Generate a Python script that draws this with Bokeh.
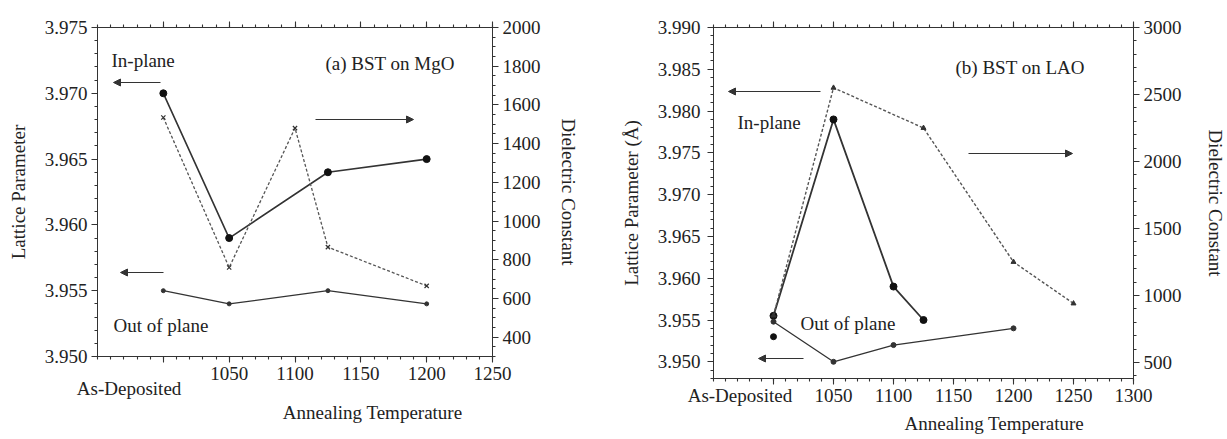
from bokeh.plotting import figure
from bokeh.models import (Range1d, LinearAxis, FixedTicker, Label, Arrow, NormalHead,
                          PrintfTickFormatter)
from bokeh.layouts import row
from bokeh.embed import file_html
from bokeh.resources import INLINE

FONT = "Liberation Serif"
INK = "#333333"
TXT = "#222222"
FS = "19px"
TICK_MAJ = 6
TICK_MIN = 3

# ---------------- data: panel (a) BST on MgO ----------------
A_T_INPLANE = [1000, 1050, 1125, 1200]
A_INPLANE = [3.970, 3.959, 3.964, 3.965]
A_T_OUTPLANE = [1000, 1050, 1125, 1200]
A_OUTPLANE = [3.955, 3.954, 3.955, 3.954]
A_T_DIEL = [1000, 1050, 1100, 1125, 1200]
A_DIEL = [1535, 760, 1480, 865, 665]

A_X_TICKS = [1000, 1050, 1100, 1150, 1200, 1250]
A_X_LABELS = ["As-Deposited", "1050", "1100", "1150", "1200", "1250"]
A_Y_TICKS = [3.950, 3.955, 3.960, 3.965, 3.970, 3.975]
A_Y2_TICKS = [400, 600, 800, 1000, 1200, 1400, 1600, 1800, 2000]

# ---------------- data: panel (b) BST on LAO ----------------
B_T_INPLANE = [1000, 1050, 1100, 1125]
B_INPLANE = [3.9555, 3.979, 3.959, 3.955]
B_T_OUTPLANE = [1000, 1050, 1100, 1200]
B_OUTPLANE = [3.9548, 3.950, 3.952, 3.954]
B_T_EXTRA = [1000]
B_EXTRA = [3.953]
B_T_DIEL = [1000, 1050, 1125, 1200, 1250]
B_DIEL = [850, 2550, 2250, 1250, 940]

B_X_TICKS = [1000, 1050, 1100, 1150, 1200, 1250, 1300]
B_X_LABELS = ["As-Deposited", "1050", "1100", "1150", "1200", "1250", "1300"]
B_Y_TICKS = [3.950, 3.955, 3.960, 3.965, 3.970, 3.975, 3.980, 3.985, 3.990]
B_Y2_TICKS = [500, 1000, 1500, 2000, 2500, 3000]

X_TITLE = "Annealing Temperature"


def frange(a, b, step):
    n = int(round((b - a) / step))
    return [round(a + i * step, 6) for i in range(n + 1)]


def style_axis(ax, label_gap, title=None, title_standoff=0):
    ax.axis_line_color = INK
    ax.major_tick_line_color = INK
    ax.minor_tick_line_color = INK
    ax.major_tick_line_width = 1.1
    ax.minor_tick_line_width = 1.1
    ax.major_tick_in = 0
    ax.major_tick_out = TICK_MAJ
    ax.minor_tick_in = 0
    ax.minor_tick_out = TICK_MIN
    ax.major_label_text_font = FONT
    ax.major_label_text_font_size = FS
    ax.major_label_text_color = TXT
    ax.major_label_standoff = max(label_gap - TICK_MAJ, 0)
    if title is not None:
        ax.axis_label = title
        ax.axis_label_text_font = FONT
        ax.axis_label_text_font_size = FS
        ax.axis_label_text_font_style = "normal"
        ax.axis_label_text_color = TXT
        ax.axis_label_standoff = title_standoff


def make_panel(xr, yr, y2r, frame_w, frame_h, borders, xticks, xlabels, xminor,
               yticks, yminor, y2ticks, y2minor, stand):
    left, right, top, bottom = borders
    p = figure(x_range=Range1d(*xr), y_range=Range1d(*yr),
               frame_width=frame_w, frame_height=frame_h,
               min_border_left=left, min_border_right=right,
               min_border_top=top, min_border_bottom=bottom,
               output_backend="svg", toolbar_location=None,
               background_fill_color=None, border_fill_color=None)
    p.extra_y_ranges = {"diel": Range1d(*y2r)}
    p.grid.visible = False
    p.outline_line_color = INK
    p.outline_line_width = 1

    # bottom axis (numeric tick labels; the As-Deposited label is placed separately)
    bx = p.xaxis[0]
    bx.ticker = FixedTicker(ticks=xticks, minor_ticks=xminor)
    style_axis(bx, 10)
    overrides = {xticks[0]: ""}
    for t, s in zip(xticks[1:], xlabels[1:]):
        overrides[t] = s
    bx.major_label_overrides = overrides
    # top axis: tick marks only
    tx = LinearAxis(ticker=FixedTicker(ticks=xticks, minor_ticks=xminor))
    style_axis(tx, 0)
    tx.major_label_text_font_size = "8px"
    tx.major_label_overrides = {t: "" for t in xticks}
    p.add_layout(tx, "above")

    # left axis
    ly = p.yaxis[0]
    ly.ticker = FixedTicker(ticks=yticks, minor_ticks=yminor)
    ly.formatter = PrintfTickFormatter(format="%.3f")
    style_axis(ly, stand[0], stand[1], stand[2])

    # right axis
    ry = LinearAxis(y_range_name="diel",
                    ticker=FixedTicker(ticks=y2ticks, minor_ticks=y2minor),
                    formatter=PrintfTickFormatter(format="%d"))
    style_axis(ry, 10, "Dielectric Constant", stand[3])
    p.add_layout(ry, "right")
    return p


def add_text_row(p, text, px_center, standoff, frame_w, xr):
    """A label-only axis row below the plot, used to place a text at a given pixel offset."""
    pos = int(round(xr[0] + px_center / frame_w * (xr[1] - xr[0])))
    ax = LinearAxis(ticker=FixedTicker(ticks=[pos], minor_ticks=[]))
    ax.major_label_overrides = {pos: text}
    ax.axis_line_color = None
    ax.major_tick_line_color = None
    ax.minor_tick_line_color = None
    ax.major_tick_in = 0
    ax.major_tick_out = 0
    ax.minor_tick_in = 0
    ax.minor_tick_out = 0
    ax.major_label_text_font = FONT
    ax.major_label_text_font_size = FS
    ax.major_label_text_color = TXT
    ax.major_label_standoff = standoff
    p.add_layout(ax, "below")


def add_label(p, text, x, y, align="left"):
    p.add_layout(Label(x=x, y=y, x_units="screen", y_units="screen", text=text,
                       text_font=FONT, text_font_size=FS, text_color=TXT,
                       text_align=align, text_baseline="middle"))


def add_arrow(p, x0, y0, x1, y1):
    p.add_layout(Arrow(end=NormalHead(size=7, fill_color=INK, line_color=INK, line_width=1),
                       x_start=x0, y_start=y0, x_end=x1, y_end=y1,
                       start_units="screen", end_units="screen",
                       line_color=INK, line_width=1.2))


# ---------------- panel (a) ----------------
A_XR = (950, 1250)
pa = make_panel(A_XR, (3.950, 3.975), (300, 2000), 395, 329, (97, 108, 27, 83),
                A_X_TICKS, A_X_LABELS, frange(950, 1250, 10),
                A_Y_TICKS, frange(3.950, 3.975, 0.001),
                A_Y2_TICKS, frange(300, 2000, 50),
                (10, "Lattice Parameter", 13, 14))

pa.line(A_T_INPLANE, A_INPLANE, line_color=INK, line_width=1.6)
pa.scatter(A_T_INPLANE, A_INPLANE, marker="circle", size=7, fill_color="#111111", line_color="#111111")
pa.line(A_T_OUTPLANE, A_OUTPLANE, line_color=INK, line_width=1.2)
pa.scatter(A_T_OUTPLANE, A_OUTPLANE, marker="circle", size=4, fill_color=INK, line_color=INK)
pa.line(A_T_DIEL, A_DIEL, y_range_name="diel", line_color="#555555", line_width=1.3, line_dash="3 2")
pa.scatter(A_T_DIEL, A_DIEL, y_range_name="diel", marker="x", size=6, line_color=INK, line_width=1.2)

add_label(pa, "In-plane", 14, 296)
add_label(pa, "(a) BST on MgO", 228, 293)
add_label(pa, "Out of plane", 16, 31)
add_text_row(pa, A_X_LABELS[0], 31, -5, 395, A_XR)
add_text_row(pa, X_TITLE, 275, 0, 395, A_XR)
add_arrow(pa, 63, 274, 16, 274)
add_arrow(pa, 218, 237, 316, 237)
add_arrow(pa, 66, 84, 23, 84)

# ---------------- panel (b) ----------------
B_XR = (950, 1300)
pb = make_panel(B_XR, (3.948, 3.990), (380, 3000), 420, 351, (113, 94, 22, 66),
                B_X_TICKS, B_X_LABELS, frange(950, 1300, 10),
                B_Y_TICKS, frange(3.948, 3.990, 0.001),
                B_Y2_TICKS, frange(400, 3000, 100),
                (13, "Lattice Parameter (Å)", 13, 20))

pb.line(B_T_INPLANE, B_INPLANE, line_color=INK, line_width=1.8)
pb.scatter(B_T_INPLANE, B_INPLANE, marker="circle", size=7, fill_color="#111111", line_color="#111111")
pb.line(B_T_OUTPLANE, B_OUTPLANE, line_color=INK, line_width=1.3)
pb.scatter(B_T_OUTPLANE, B_OUTPLANE, marker="circle", size=5, fill_color=INK, line_color=INK)
pb.scatter(B_T_EXTRA, B_EXTRA, marker="circle", size=6, fill_color="#111111", line_color="#111111")
pb.line(B_T_DIEL, B_DIEL, y_range_name="diel", line_color="#555555", line_width=1.4, line_dash="3 2")
pb.scatter(B_T_DIEL, B_DIEL, y_range_name="diel", marker="triangle", size=5, fill_color=INK, line_color=INK)

add_label(pb, "(b) BST on LAO", 242, 311)
add_label(pb, "In-plane", 24, 256)
add_label(pb, "Out of plane", 87, 55)
add_text_row(pb, B_X_LABELS[0], 26, -20, 420, B_XR)
add_text_row(pb, X_TITLE, 281, 4, 420, B_XR)
add_arrow(pb, 107, 287, 15, 287)
add_arrow(pb, 255, 225, 359, 225)
add_arrow(pb, 90, 20, 45, 20)

layout = row(pa, pb)
open("out.html", "w").write(file_html(layout, INLINE))
